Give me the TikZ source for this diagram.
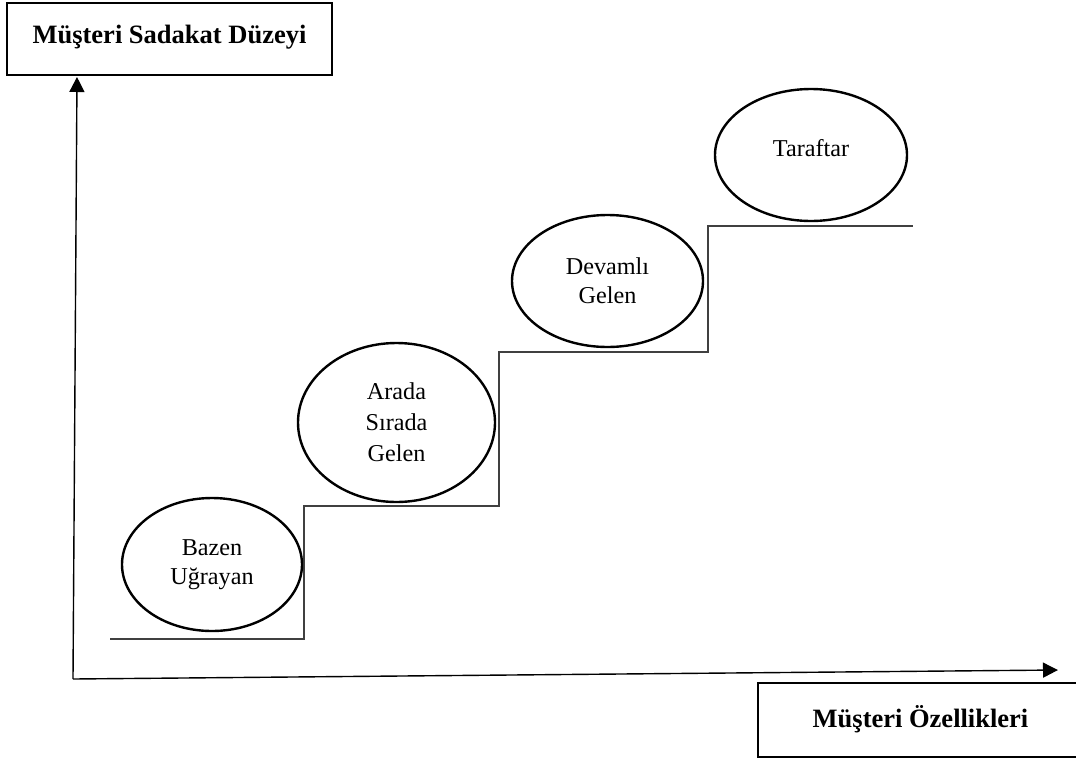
\documentclass[tikz,border=0pt]{standalone}
\usepackage{fontspec}
\setmainfont{Liberation Serif}
\usetikzlibrary{shapes.geometric,arrows.meta}
\begin{document}
\begin{tikzpicture}[x=1pt,y=-1pt,
  labelbox/.style={draw,line width=2.6pt,rectangle,inner sep=0pt,
    font=\fontsize{26.5}{29}\selectfont\bfseries},
  stage/.style={draw,line width=2.4pt,ellipse,inner sep=0pt,align=center,
    font=\fontsize{24.2}{29}\selectfont},
  axis/.style={line width=1.4pt,-{Triangle[length=15pt,width=15pt]}},
  stair/.style={line width=1.6pt,color=black!75}]
\useasboundingbox (0,0) rectangle (1076,758);
\clip (0,0) rectangle (1076,758);

% axis titles
\node[labelbox,minimum width=325pt,minimum height=72pt] (ytitle) at (169.5,39)
  {\raisebox{9pt}{Müşteri Sadakat Düzeyi}};
\node[labelbox,minimum width=325pt,minimum height=74pt] (xtitle) at (920.5,720)
  {\raisebox{7pt}{Müşteri Özellikleri}};

% axes
\coordinate (origin) at (73,679);
\coordinate (ytip) at (77,77);
\coordinate (xtip) at (1058,670);
\draw[axis] (origin) -- (ytip);
\draw[axis] (origin) -- (xtip);

% staircase
\coordinate (s0) at (110,639);
\coordinate (s1) at (304,506);
\coordinate (s2) at (499,352);
\coordinate (s3) at (708,226);
\coordinate (s4) at (913,226);
\draw[stair] (s0) -| (s1) -| (s2) -| (s3) -- (s4);

% loyalty stages
\node[stage,minimum width=180pt,minimum height=133pt] (bazen) at (212,564.5)
  {Bazen\\Uğrayan};
\node[stage,minimum width=197pt,minimum height=159pt] (arada) at (396.5,422.5)
  {Arada\\[2pt]Sırada\\[2pt]Gelen};
\node[stage,minimum width=191pt,minimum height=132pt] (devamli) at (607.5,281)
  {\fontsize{24.2}{25}\selectfont Devamlı\\Gelen};
\node[stage,minimum width=192pt,minimum height=132pt] (taraftar) at (811,155)
  {\raisebox{14pt}{Taraftar}};
\end{tikzpicture}
\end{document}
